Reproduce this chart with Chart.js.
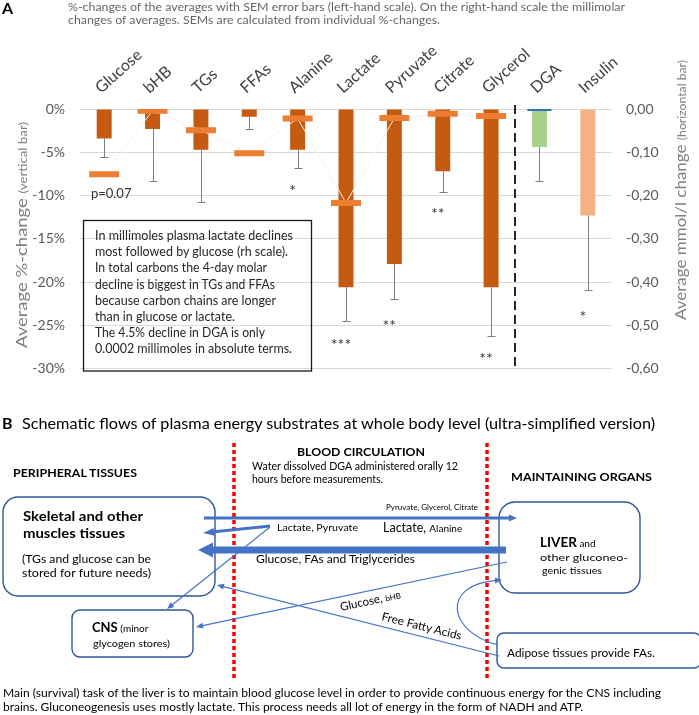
<!DOCTYPE html>
<html>
<head>
<meta charset="utf-8">
<title>Plasma energy substrates</title>
<script src="https://cdn.jsdelivr.net/npm/chart.js@4.4.1/dist/chart.umd.min.js"></script>
<style>
  html, body { margin: 0; padding: 0; background: #fff; }
  #wrap { position: relative; width: 699px; height: 715px; overflow: hidden; }
  #chartA, #overlay { position: absolute; left: 0; top: 0; }
</style>
</head>
<body>
<div id="wrap">
<canvas id="chartA" width="699" height="392"></canvas>
<svg id="overlay" width="699" height="715" xmlns="http://www.w3.org/2000/svg" font-family="Lato, sans-serif">
  <!-- panel A texts -->
  <text x="2" y="14" font-weight="bold" font-size="16">A</text>
  <g fill="#666" font-size="11.5">
    <text x="68" y="11" textLength="557" lengthAdjust="spacingAndGlyphs">%-changes of the averages with SEM error bars (left-hand scale). On the right-hand scale the millimolar</text>
    <text x="68" y="24" textLength="372" lengthAdjust="spacingAndGlyphs">changes of averages. SEMs are calculated from individual %-changes.</text>
  </g>
  <text transform="translate(27,235) rotate(-90)" text-anchor="middle" fill="#808080" font-size="16" textLength="226" lengthAdjust="spacingAndGlyphs">Average %-change <tspan font-size="11.5">(vertical bar)</tspan></text>
  <text transform="translate(686,190) rotate(-90)" text-anchor="middle" fill="#808080" font-size="16" textLength="260" lengthAdjust="spacingAndGlyphs">Average mmol/l change <tspan font-size="11.5">(horizontal bar)</tspan></text>
  <rect x="83.5" y="220.5" width="228" height="150.5" fill="none" stroke="#1a1a1a" stroke-width="1.3"/>
  <g font-size="13" fill="#262626">
    <text x="95" y="240" textLength="198" lengthAdjust="spacingAndGlyphs">In millimoles plasma lactate declines</text>
    <text x="95" y="256" textLength="193" lengthAdjust="spacingAndGlyphs">most followed by glucose (rh scale).</text>
    <text x="95" y="272" textLength="172" lengthAdjust="spacingAndGlyphs">In total carbons the 4-day molar</text>
    <text x="95" y="288.5" textLength="180" lengthAdjust="spacingAndGlyphs">decline is biggest in TGs and FFAs</text>
    <text x="95" y="304.5" textLength="181" lengthAdjust="spacingAndGlyphs">because carbon chains are longer</text>
    <text x="95" y="321" textLength="140" lengthAdjust="spacingAndGlyphs">than in glucose or lactate.</text>
    <text x="95" y="337" textLength="170" lengthAdjust="spacingAndGlyphs">The 4.5% decline in DGA is only</text>
    <text x="95" y="353" textLength="197" lengthAdjust="spacingAndGlyphs">0.0002 millimoles in absolute terms.</text>
  </g>

  <!-- panel B -->
  <text x="2" y="429" font-weight="bold" font-size="16">B</text>
  <text x="22" y="429" font-size="15" textLength="633" lengthAdjust="spacingAndGlyphs">Schematic flows of plasma energy substrates at whole body level (ultra-simplified version)</text>
  <line x1="234" y1="443" x2="234" y2="678" stroke="#ff0000" stroke-width="3.5" stroke-dasharray="4 3"/>
  <line x1="487" y1="443" x2="487" y2="678" stroke="#ff0000" stroke-width="3.5" stroke-dasharray="4 3"/>
  <text x="297" y="456" font-weight="bold" font-size="12" textLength="128" lengthAdjust="spacingAndGlyphs">BLOOD CIRCULATION</text>
  <text x="252" y="470" font-size="10.5" textLength="206" lengthAdjust="spacingAndGlyphs">Water dissolved DGA administered orally 12</text>
  <text x="252" y="483" font-size="10.5">hours before measurements.</text>
  <text x="13" y="477" font-weight="bold" font-size="11.5" textLength="124" lengthAdjust="spacingAndGlyphs">PERIPHERAL TISSUES</text>
  <text x="511" y="481" font-weight="bold" font-size="12" textLength="141" lengthAdjust="spacingAndGlyphs">MAINTAINING ORGANS</text>

  <g fill="none" stroke="#2F5597" stroke-width="1.4">
    <rect x="3" y="497" width="212" height="99" rx="15"/>
    <rect x="499" y="502" width="141" height="91" rx="16"/>
    <rect x="72" y="610" width="121" height="47" rx="8"/>
    <rect x="497" y="633" width="204" height="35" rx="7"/>
  </g>

  <text x="23" y="521" font-weight="bold" font-size="13.5" textLength="120" lengthAdjust="spacingAndGlyphs">Skeletal and other</text>
  <text x="23" y="538" font-weight="bold" font-size="13.5" textLength="102" lengthAdjust="spacingAndGlyphs">muscles tissues</text>
  <text x="22" y="563" font-size="10.5" textLength="129" lengthAdjust="spacingAndGlyphs">(TGs and glucose can be</text>
  <text x="22" y="577" font-size="10.5" textLength="129" lengthAdjust="spacingAndGlyphs">stored for future needs)</text>

  <text x="540" y="547"><tspan font-weight="bold" font-size="13.5">LIVER</tspan><tspan font-size="10"> and</tspan></text>
  <text x="540" y="561" font-size="10" textLength="88" lengthAdjust="spacingAndGlyphs">other gluconeo-</text>
  <text x="542" y="574" font-size="10" textLength="60" lengthAdjust="spacingAndGlyphs">genic tissues</text>

  <text x="92" y="632"><tspan font-weight="bold" font-size="13">CNS</tspan><tspan font-size="10"> (minor</tspan></text>
  <text x="93" y="647" font-size="10" textLength="77" lengthAdjust="spacingAndGlyphs">glycogen stores)</text>
  <text x="507" y="657" font-size="11" textLength="148" lengthAdjust="spacingAndGlyphs">Adipose tissues provide FAs.</text>

  <g id="flows"></g>

  <text x="386" y="510" font-size="8" textLength="92" lengthAdjust="spacingAndGlyphs">Pyruvate, Glycerol, Citrate</text>
  <text x="277" y="531" font-size="10" textLength="81" lengthAdjust="spacingAndGlyphs">Lactate, Pyruvate</text>
  <text x="383" y="532"><tspan font-size="12.5">Lactate, </tspan><tspan font-size="10">Alanine</tspan></text>
  <text x="256" y="563" font-size="11" textLength="159" lengthAdjust="spacingAndGlyphs">Glucose, FAs and Triglycerides</text>
  <text transform="translate(341,611) rotate(-12)"><tspan font-size="11.5">Glucose, </tspan><tspan font-size="8">bHB</tspan></text>
  <text transform="translate(381,620) rotate(14)" font-size="11.5" textLength="82" lengthAdjust="spacingAndGlyphs">Free Fatty Acids</text>

  <text x="3" y="697" font-size="11" textLength="658" lengthAdjust="spacingAndGlyphs">Main (survival) task of the liver is to maintain blood glucose level in order to provide continuous energy for the CNS including</text>
  <text x="3" y="711" font-size="11" textLength="580" lengthAdjust="spacingAndGlyphs">brains. Gluconeogenesis uses mostly lactate. This process needs all lot of energy in the form of NADH and ATP.</text>
</svg>
</div>

<script>
// ---- panel A data ----
const categories = ["Glucose", "bHB", "TGs", "FFAs", "Alanine", "Lactate", "Pyruvate", "Citrate", "Glycerol", "DGA", "Insulin"];
// average %-change (vertical bars, left scale)
const pctChange = [-3.4, -2.3, -4.7, -0.9, -4.7, -20.6, -17.9, -7.2, -20.6, -4.4, -12.3];
// SEM of the %-change (one-sided error bars)
const pctSem = [2.1, 6.0, 6.1, 1.4, 2.1, 3.9, 4.0, 2.4, 5.6, 3.9, 8.6];
// average mmol/l change (horizontal bars, right scale)
const mmolChange = [-0.151, -0.004, -0.049, -0.102, -0.022, -0.217, -0.021, -0.011, -0.016, -0.0002, null];
// significance notes and the %-level they sit at
const sigLabels = ["p=0.07", "", "", "", "*", "***", "**", "**", "**", "", "*"];
const sigAt = [-9.8, null, null, null, -9.0, -26.8, -24.6, -11.6, -28.4, null, -23.6];

const barColors = categories.map(c => c === "DGA" ? "#A9D18E" : c === "Insulin" ? "#F4B183" : "#C55A11");
const markColors = categories.map(c => c === "DGA" ? "#2E75B6" : "#ED7D31");

// category labels (rotated), error bars, significance labels, DGA divider
const extras = {
  id: "extras",
  afterDatasetsDraw(chart) {
    const { ctx } = chart;
    const x = chart.scales.x, y = chart.scales.y;
    ctx.save();

    ctx.fillStyle = "#404040";
    ctx.font = "16px Lato";
    ctx.textAlign = "left";
    ctx.textBaseline = "alphabetic";
    categories.forEach((c, i) => {
      ctx.save();
      ctx.translate(x.getPixelForValue(i) - 3, y.top - 15);
      ctx.rotate(-42 * Math.PI / 180);
      ctx.fillText(c, 0, 0);
      ctx.restore();
    });

    ctx.strokeStyle = "#7f7f7f";
    ctx.lineWidth = 1;
    pctChange.forEach((v, i) => {
      const px = Math.round(x.getPixelForValue(i)) + 0.5;
      const y0 = y.getPixelForValue(v);
      const y1 = Math.round(y.getPixelForValue(v - pctSem[i])) + 0.5;
      ctx.beginPath();
      ctx.moveTo(px, y0);
      ctx.lineTo(px, y1);
      ctx.moveTo(px - 4, y1);
      ctx.lineTo(px + 4, y1);
      ctx.stroke();
    });

    // dashed divider between substrates and DGA/insulin
    const dx = Math.round((x.getPixelForValue(8) + x.getPixelForValue(9)) / 2);
    ctx.strokeStyle = "#262626";
    ctx.lineWidth = 2;
    ctx.setLineDash([9, 5]);
    ctx.beginPath();
    ctx.moveTo(dx, y.top - 4);
    ctx.lineTo(dx, y.bottom);
    ctx.stroke();
    ctx.setLineDash([]);

    ctx.fillStyle = "#333";
    ctx.textAlign = "center";
    ctx.textBaseline = "middle";
    sigLabels.forEach((t, i) => {
      if (!t) return;
      const px = x.getPixelForValue(i);
      const py = y.getPixelForValue(sigAt[i]);
      if (t[0] === "p") {
        ctx.font = "13px Lato";
        ctx.fillText(t, px + 7, py);
      } else {
        ctx.font = "16px Lato";
        ctx.fillText(t, px - 5, py + 4);
      }
    });
    ctx.restore();
  }
};

new Chart(document.getElementById("chartA"), {
  type: "bar",
  data: {
    labels: categories,
    datasets: [
      {
        type: "line",
        label: "mmol/l change",
        data: mmolChange,
        yAxisID: "y1",
        order: 0,
        borderColor: "#f3f3f3",
        borderWidth: 1,
        pointStyle: "line",
        pointRadius: categories.map(c => c === "DGA" ? 12 : 15),
        pointBorderWidth: categories.map(c => c === "DGA" ? 4 : 6),
        pointBorderColor: markColors,
        pointBackgroundColor: markColors
      },
      {
        label: "% change",
        data: pctChange,
        yAxisID: "y",
        order: 1,
        backgroundColor: barColors,
        barPercentage: 0.31,
        categoryPercentage: 1
      }
    ]
  },
  options: {
    responsive: false,
    animation: false,
    devicePixelRatio: 1,
    layout: { padding: { top: 0, left: 0, right: 0, bottom: 13 } },
    plugins: { legend: { display: false }, tooltip: { enabled: false } },
    scales: {
      x: {
        position: "top",
        grid: { display: false, drawTicks: false },
        border: { display: false },
        ticks: { display: false },
        afterFit: s => { s.height = 109; }
      },
      y: {
        position: "left",
        min: -30,
        max: 0,
        grid: { color: "#d9d9d9", drawTicks: false },
        border: { display: false },
        ticks: {
          stepSize: 5,
          padding: 15,
          color: "#595959",
          font: { family: "Lato", size: 14 },
          callback: v => v + "%"
        },
        afterFit: s => { s.width = 80; }
      },
      y1: {
        position: "right",
        min: -0.6,
        max: 0,
        grid: { display: false, drawTicks: false },
        border: { display: false },
        ticks: {
          stepSize: 0.1,
          padding: 14,
          color: "#595959",
          font: { family: "Lato", size: 14 },
          callback: v => (Math.abs(v) < 1e-9 ? 0 : v).toFixed(2).replace(".", ",")
        },
        afterFit: s => { s.width = 87; }
      }
    }
  },
  plugins: [extras]
});

// ---- panel B flow arrows ----
const NS = "http://www.w3.org/2000/svg";
const flows = document.getElementById("flows");
const BLUE = "#4472C4";

function add(tag, attrs) {
  const e = document.createElementNS(NS, tag);
  for (const k in attrs) e.setAttribute(k, attrs[k]);
  flows.appendChild(e);
  return e;
}

function head(tx, ty, dx, dy, len, wid) {
  const d = Math.hypot(dx, dy), ux = dx / d, uy = dy / d;
  const bx = tx - ux * len, by = ty - uy * len;
  const nx = -uy * wid / 2, ny = ux * wid / 2;
  add("polygon", { points: `${tx},${ty} ${bx + nx},${by + ny} ${bx - nx},${by - ny}`, fill: BLUE });
  return [tx - ux * len * 0.8, ty - uy * len * 0.8];
}

function arrow(x1, y1, x2, y2, w, len, wid) {
  const [ex, ey] = head(x2, y2, x2 - x1, y2 - y1, len, wid);
  add("line", { x1, y1, x2: ex, y2: ey, stroke: BLUE, "stroke-width": w });
}

arrow(204, 518, 517, 518, 3, 8, 7);      // pyruvate, glycerol, citrate -> liver
arrow(270, 526, 203, 533, 3, 11, 8);     // lactate, pyruvate -> muscles
arrow(270, 527, 167, 609, 1.2, 7, 6);    // lactate, pyruvate -> CNS
arrow(506, 550, 198, 550, 7, 15, 15);    // glucose, FAs, TGs -> muscles
arrow(507, 562, 196, 627, 1.2, 7, 6);    // glucose, bHB -> CNS
arrow(499, 656, 217, 585, 1.2, 7, 6);    // FFAs -> muscles
const [cx, cy] = head(502, 580, 1, -0.08, 7, 6);
add("path", { d: `M498,645 C448,632 440,585 ${cx},${cy}`, fill: "none", stroke: BLUE, "stroke-width": 1.2 });
</script>
</body>
</html>
